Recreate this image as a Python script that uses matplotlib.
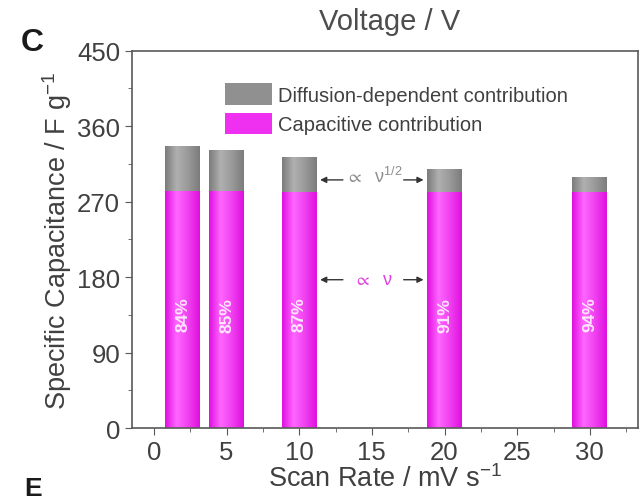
import numpy as np
import matplotlib.pyplot as plt
from matplotlib.colors import LinearSegmentedColormap
from matplotlib.ticker import MultipleLocator

plt.rcParams['font.family'] = ['Liberation Sans', 'DejaVu Sans']
plt.rcParams['mathtext.default'] = 'regular'

# scan rates (mV/s), total specific capacitance (F/g), capacitive share (%)
scan_rate = [2, 5, 10, 20, 30]
total_cap = [337, 332, 323, 309, 299]
cap_pct = [84, 85, 87, 91, 94]

capacitive = [t * p / 100 for t, p in zip(total_cap, cap_pct)]
diffusion = [t - c for t, c in zip(total_cap, capacitive)]

pink_cm = LinearSegmentedColormap.from_list('pink', ['#e010e0', '#ff66ff', '#f040f0', '#e010e0'])
gray_cm = LinearSegmentedColormap.from_list('gray', ['#7c7c7c', '#b0b0b0', '#999999', '#7c7c7c'])


def shade(ax, bars, cmap):
    # horizontal gradient inside each bar, like the Origin bar fill
    grad = np.linspace(0, 1, 64).reshape(1, -1)
    for b in bars:
        x0, y0 = b.get_x(), b.get_y()
        w, h = b.get_width(), b.get_height()
        im = ax.imshow(grad, cmap=cmap, aspect='auto', extent=(x0, x0 + w, y0, y0 + h),
                       zorder=b.get_zorder() + 0.1, interpolation='bicubic')
        im.set_clip_path(b)


fig = plt.figure(figsize=(6.41, 5.02), dpi=100)
ax = fig.add_axes([0.206, 0.145, 0.789, 0.752])

w = 2.4
b_cap = ax.bar(scan_rate, capacitive, width=w, color='#f030f0', lw=0, zorder=2,
               label='Capacitive contribution')
b_dif = ax.bar(scan_rate, diffusion, width=w, bottom=capacitive, color='#909090', lw=0, zorder=2,
               label='Diffusion-dependent contribution')
shade(ax, b_cap, pink_cm)
shade(ax, b_dif, gray_cm)

for x, p in zip(scan_rate, cap_pct):
    ax.text(x, 136, f'{p}%', rotation=90, color='white', fontsize=12.5, fontweight='bold',
            ha='center', va='center', zorder=5, alpha=0.85)

# scaling guides between the 10 and 20 mV/s bars
for y, txt, col in [(296, r'$\propto$  $\nu^{1/2}$', '0.55'), (177, r'$\propto$  $\nu$', '#e040e0')]:
    ax.text(15.1, y + (5 if col == '0.55' else 0), txt, color=col, fontsize=13,
            ha='center', va='center', zorder=5)
    ax.annotate('', xy=(11.25, y), xytext=(13.2, y),
                arrowprops=dict(arrowstyle='-|>', color='0.2', lw=1, mutation_scale=9))
    ax.annotate('', xy=(18.75, y), xytext=(17.0, y),
                arrowprops=dict(arrowstyle='-|>', color='0.2', lw=1, mutation_scale=9))

ax.set_xlim(-1.5, 33.3)
ax.set_ylim(0, 450)
ax.set_xticks([0, 5, 10, 15, 20, 25, 30])
ax.set_yticks([0, 90, 180, 270, 360, 450])
ax.xaxis.set_minor_locator(MultipleLocator(2.5))
ax.yaxis.set_minor_locator(MultipleLocator(45))
ax.tick_params(which='both', direction='out', labelsize=18.5, colors='0.35', labelcolor='0.25')
ax.tick_params(which='major', length=5)
ax.tick_params(which='minor', length=3)
for s in ax.spines.values():
    s.set_color('0.35')
    s.set_linewidth(1.2)

ax.set_xlabel(r'Scan Rate / mV s$^{-1}$', fontsize=19.5, color='0.25', labelpad=0)
ax.set_ylabel(r'Specific Capacitance / F g$^{-1}$', fontsize=19.5, color='0.25', labelpad=2)

h, l = ax.get_legend_handles_labels()
ax.legend(h[::-1], l[::-1], loc='upper left', bbox_to_anchor=(0.168, 0.935), borderaxespad=0,
          frameon=False, fontsize=14.5, handlelength=2.35, handleheight=1.25, handletextpad=0.3,
          labelspacing=0.4, labelcolor='0.25')

fig.text(0.608, 0.956, 'Voltage / V', fontsize=21, color='0.3', ha='center', va='center')
fig.text(0.033, 0.915, 'C', fontsize=23, fontweight='bold', color='0.1', ha='left', va='center')
fig.text(0.038, 0.002, 'E', fontsize=19, fontweight='bold', color='0.1', ha='left', va='bottom')

fig.savefig('out.png', dpi=100)
